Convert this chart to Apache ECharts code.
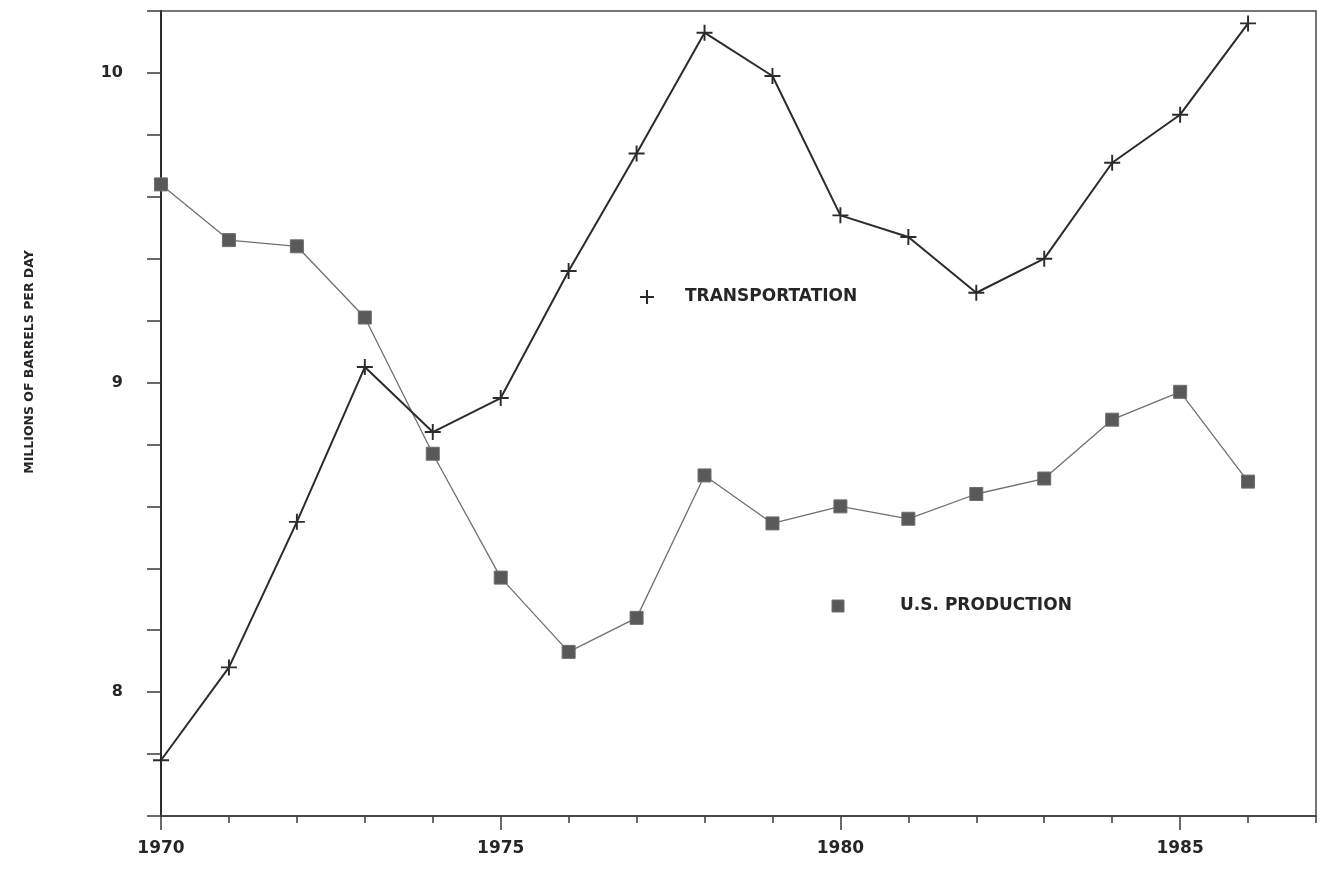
<!DOCTYPE html>
<html>
<head>
<meta charset="utf-8">
<title>Transportation oil use and U.S. production, 1970-1986</title>
<script src="https://cdn.jsdelivr.net/npm/echarts@6/dist/echarts.min.js"></script>
<style>
  html, body { margin: 0; padding: 0; background: #ffffff; }
  #chart { width: 1321px; height: 873px; }
</style>
</head>
<body>
<div id="chart"></div>
<script>
// Years on the horizontal axis (the axis runs one year past the last observation)
const years = ['1970', '1971', '1972', '1973', '1974', '1975', '1976', '1977', '1978',
  '1979', '1980', '1981', '1982', '1983', '1984', '1985', '1986', '1987'];

// Millions of barrels per day
const transportation = [7.78, 8.08, 8.55, 9.05, 8.84, 8.95, 9.36, 9.74, 10.13,
  9.99, 9.54, 9.47, 9.29, 9.40, 9.71, 9.865, 10.16];
const production = [9.64, 9.46, 9.44, 9.21, 8.77, 8.37, 8.13, 8.24, 8.70,
  8.545, 8.60, 8.56, 8.64, 8.69, 8.88, 8.97, 8.68];

// Vertical axis range and the values that carry a label
const yMin = 7.6;
const yMax = 10.2;
const yStep = 0.2;
const yLabelled = [8, 9, 10];

const seriesNames = ['TRANSPORTATION', 'U.S. PRODUCTION'];
const axisTitle = 'MILLIONS OF BARRELS PER DAY';

const INK = '#262626';
const FONT = '"DejaVu Sans", "Liberation Sans", sans-serif';
const plusSymbol = 'path://M0,4.4H10V5.6H0Z M4.4,0H5.6V10H4.4Z';

const chart = echarts.init(document.getElementById('chart'), null, { renderer: 'canvas' });

const option = {
  animation: false,
  backgroundColor: '#ffffff',
  grid: {
    left: 161, right: 5, top: 11, bottom: 57,
    show: true,
    borderColor: '#4a4a4a',
    borderWidth: 1.5,
    backgroundColor: 'transparent'
  },
  xAxis: [
    {
      // labelled axis: long ticks every five years
      type: 'category',
      data: years,
      boundaryGap: false,
      position: 'bottom',
      axisLine: { show: true, lineStyle: { color: '#3a3a3a', width: 1.5 } },
      axisTick: {
        show: true,
        interval: (i) => i % 5 === 0,
        length: 14,
        lineStyle: { color: '#3a3a3a', width: 1.5 }
      },
      axisLabel: {
        interval: (i) => i % 5 === 0,
        margin: 24,
        color: INK,
        fontFamily: FONT,
        fontWeight: 'bold',
        fontSize: 17
      },
      splitLine: { show: false }
    },
    {
      // short ticks for every year
      type: 'category',
      data: years,
      boundaryGap: false,
      position: 'bottom',
      axisLine: { show: false },
      axisTick: {
        show: true,
        interval: 0,
        length: 7,
        lineStyle: { color: '#3a3a3a', width: 1.5 }
      },
      axisLabel: { show: false },
      splitLine: { show: false }
    }
  ],
  yAxis: {
    type: 'value',
    min: yMin,
    max: yMax,
    interval: yStep,
    axisLine: { show: true, lineStyle: { color: '#2e2e2e', width: 2 } },
    axisTick: { show: true, length: 14, lineStyle: { color: '#3a3a3a', width: 1.5 } },
    axisLabel: {
      margin: 38,
      color: INK,
      fontFamily: FONT,
      fontWeight: 'bold',
      fontSize: 16,
      formatter: (v) => {
        const hit = yLabelled.find((t) => Math.abs(t - v) < 1e-6);
        return hit === undefined ? '' : String(hit);
      }
    },
    splitLine: { show: false }
  },
  series: [
    {
      name: seriesNames[0],
      type: 'line',
      xAxisIndex: 0,
      data: transportation,
      symbol: plusSymbol,
      symbolSize: 16,
      showAllSymbol: true,
      lineStyle: { color: '#2b2b2b', width: 2 },
      itemStyle: { color: '#2b2b2b' },
      z: 4
    },
    {
      name: seriesNames[1],
      type: 'line',
      xAxisIndex: 0,
      data: production,
      symbol: 'rect',
      symbolSize: 13,
      showAllSymbol: true,
      lineStyle: { color: '#707070', width: 1.3 },
      itemStyle: { color: '#595959', borderColor: '#6e6e6e', borderWidth: 1 },
      z: 3
    }
  ],
  graphic: [
    {
      type: 'text',
      x: 30,
      y: 362,
      rotation: Math.PI / 2,
      style: {
        text: axisTitle,
        fill: INK,
        font: 'bold 12.5px ' + FONT,
        align: 'center',
        verticalAlign: 'middle'
      }
    },
    // key for the transportation series
    {
      type: 'group',
      x: 647,
      y: 297,
      children: [
        { type: 'rect', shape: { x: -7, y: -1, width: 14, height: 2 }, style: { fill: '#2b2b2b' } },
        { type: 'rect', shape: { x: -1, y: -7, width: 2, height: 14 }, style: { fill: '#2b2b2b' } }
      ]
    },
    {
      type: 'text',
      x: 685,
      y: 297,
      style: {
        text: seriesNames[0],
        fill: INK,
        font: 'bold 17px ' + FONT,
        align: 'left',
        verticalAlign: 'middle'
      }
    },
    // key for the production series
    {
      type: 'rect',
      shape: { x: 832, y: 600, width: 12, height: 12 },
      style: { fill: '#595959', stroke: '#6e6e6e', lineWidth: 1 }
    },
    {
      type: 'text',
      x: 900,
      y: 606,
      style: {
        text: seriesNames[1],
        fill: INK,
        font: 'bold 17px ' + FONT,
        align: 'left',
        verticalAlign: 'middle'
      }
    }
  ]
};

chart.setOption(option);
</script>
</body>
</html>
